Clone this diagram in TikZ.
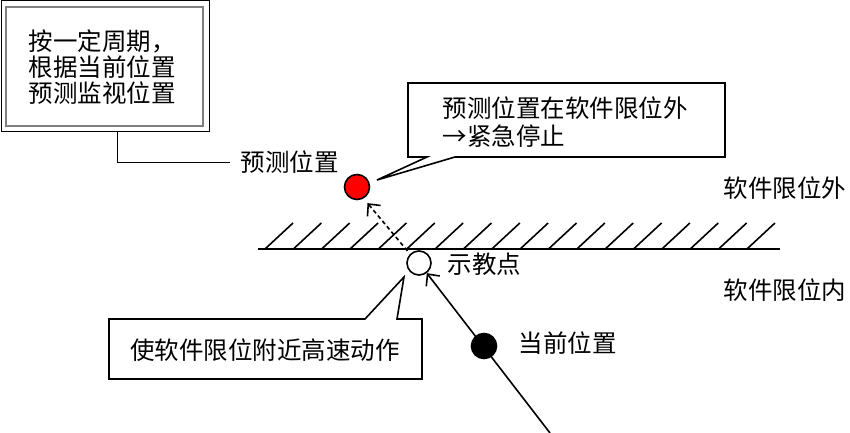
\documentclass[tikz,border=0pt]{standalone}
\usepackage{fontspec}
\newfontfamily\cjk{Noto Sans CJK SC}
\usepackage{tikz}
\usetikzlibrary{arrows.meta}
\usetikzlibrary{calc}

\begin{document}
\begin{tikzpicture}[x=1pt, y=-1pt, line width=1.6pt,
        lbl/.style={inner sep=0pt, font=\cjk\fontsize{24.5}{26}\selectfont},
        dot/.style={circle, draw, minimum size=25pt, inner sep=0pt},
        tip/.style={-{Straight Barb[length=9pt, width=17pt]}}]
        \useasboundingbox (0, 0) rectangle (850, 433);
        % box in the top left corner
        \draw[line width=1pt] (1, 1) rectangle (209, 131);
        \draw[gray, line width=2pt] (6, 7) rectangle (203, 126);
        \node[lbl, align=left] (cycle) at (102, 67) {按一定周期，\\根据当前位置\\预测监视位置};
        \node[lbl, anchor=west] (predlbl) at (240, 162) {预测位置};
        \draw[line width=1pt] (117, 131) -- (117, 162) -- ([xshift=-10pt]predlbl.west);
        % callout: emergency stop
        \draw (408, 83) -- (725, 83) -- (725, 157) -- (455, 157) -- (377, 180) -- (427, 157) -- (408, 157) -- cycle;
        \node[lbl, anchor=west, align=left, font=\cjk\fontsize{24.5}{28}\selectfont] (stop) at (442, 122) {预测位置在软件限位外\\→紧急停止};
        % soft limit line
        \draw (258, 249) -- (780, 249);
        \foreach \i in {0,...,17}
            \draw (265+28.35*\i, 249) -- ++(28, -26);
        \node[lbl] (outside) at (785, 188) {软件限位外};
        \node[lbl] (inside) at (785, 290) {软件限位内};
        % points
        \node[dot, fill=red] (pred) at (357, 187) {};
        \node[dot, fill=white, minimum size=24pt] (teach) at (419, 263) {};
        \node[lbl, anchor=west] (teachlbl) at (447, 264) {示教点};
        \node[dot, fill=black] (cur) at (484, 346) {};
        \node[lbl, anchor=west] (curlbl) at (518, 343) {当前位置};
        \coordinate (start) at (550, 433);
        \draw[tip] (start) -- (teach);
        \draw[tip, dash pattern=on 4pt off 3pt, shorten <=4pt, shorten >=6pt] (teach.135) -- (pred.-60);
        % callout: high speed near the limit
        \draw (109, 319) -- (365, 319) -- (404, 277) -- (397, 319) -- (422, 319) -- (422, 379) -- (109, 379) -- cycle;
        \node[lbl] (speed) at (265, 350) {使软件限位附近高速动作};
    \end{tikzpicture}
\end{document}
